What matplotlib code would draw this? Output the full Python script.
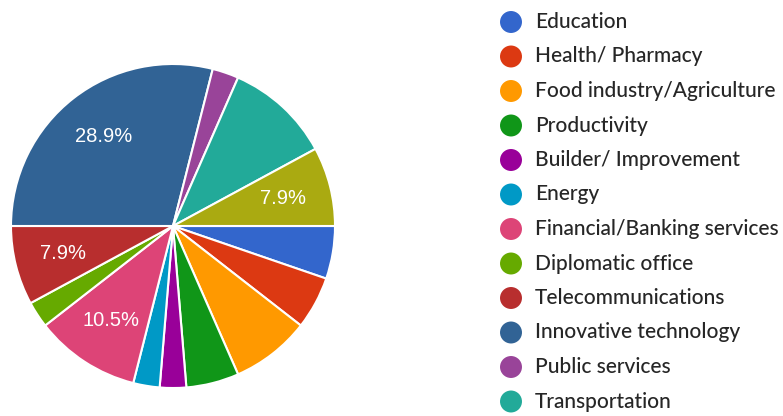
import numpy as np
import matplotlib.pyplot as plt

# responses per sector (38 in total), clockwise from 3 o'clock
sectors = ["Education", "Health/ Pharmacy", "Food industry/Agriculture", "Productivity",
           "Builder/ Improvement", "Energy", "Financial/Banking services", "Diplomatic office",
           "Telecommunications", "Innovative technology", "Public services", "Transportation",
           "Other"]
counts = [2, 2, 3, 2, 1, 1, 4, 1, 3, 11, 1, 4, 3]
colors = ["#3366cc", "#dc3912", "#ff9900", "#109618", "#990099", "#0099c6", "#dd4477",
          "#66aa00", "#b82e2e", "#316395", "#994499", "#22aa99", "#aaaa11"]
# only these slices carry a percentage label in the original
labelled = ["Financial/Banking services", "Telecommunications", "Innovative technology", "Other"]
# the legend is cut off after Transportation
legend_items = sectors[:12]

W, H = 783, 416
fig = plt.figure(figsize=(W / 100, H / 100), dpi=100)

# pie: centre at (173, 226) px, radius 162 px
cx, cy, r = 173, 226, 162
ax = fig.add_axes([(cx - r) / W, (H - cy - r) / H, 2 * r / W, 2 * r / H])
wedges, _ = ax.pie(counts, colors=colors, startangle=0, counterclock=False,
                   wedgeprops=dict(edgecolor="white", linewidth=1.5))
ax.set_xlim(-1, 1)
ax.set_ylim(-1, 1)
ax.set_aspect("equal")

total = sum(counts)
for w, name, c in zip(wedges, sectors, counts):
    if name not in labelled:
        continue
    mid = np.deg2rad((w.theta1 + w.theta2) / 2)
    ax.text(0.7 * np.cos(mid), 0.7 * np.sin(mid), f"{100 * c / total:.1f}%",
            ha="center", va="center", color="white", fontsize=14.5,
            family="Liberation Sans")

# legend drawn by hand in pixel coordinates
lax = fig.add_axes([0, 0, 1, 1])
lax.set_xlim(0, W)
lax.set_ylim(H, 0)
lax.axis("off")
y0, dy = 22, 34.5
for i, name in enumerate(legend_items):
    y = y0 + i * dy
    lax.scatter(511, y, s=250, color=colors[i], edgecolors="none")
    lax.text(535, y, name, ha="left", va="center", fontsize=15,
             color="#262626", family="Lato", fontweight="medium")

fig.savefig("out.png", dpi=100)
